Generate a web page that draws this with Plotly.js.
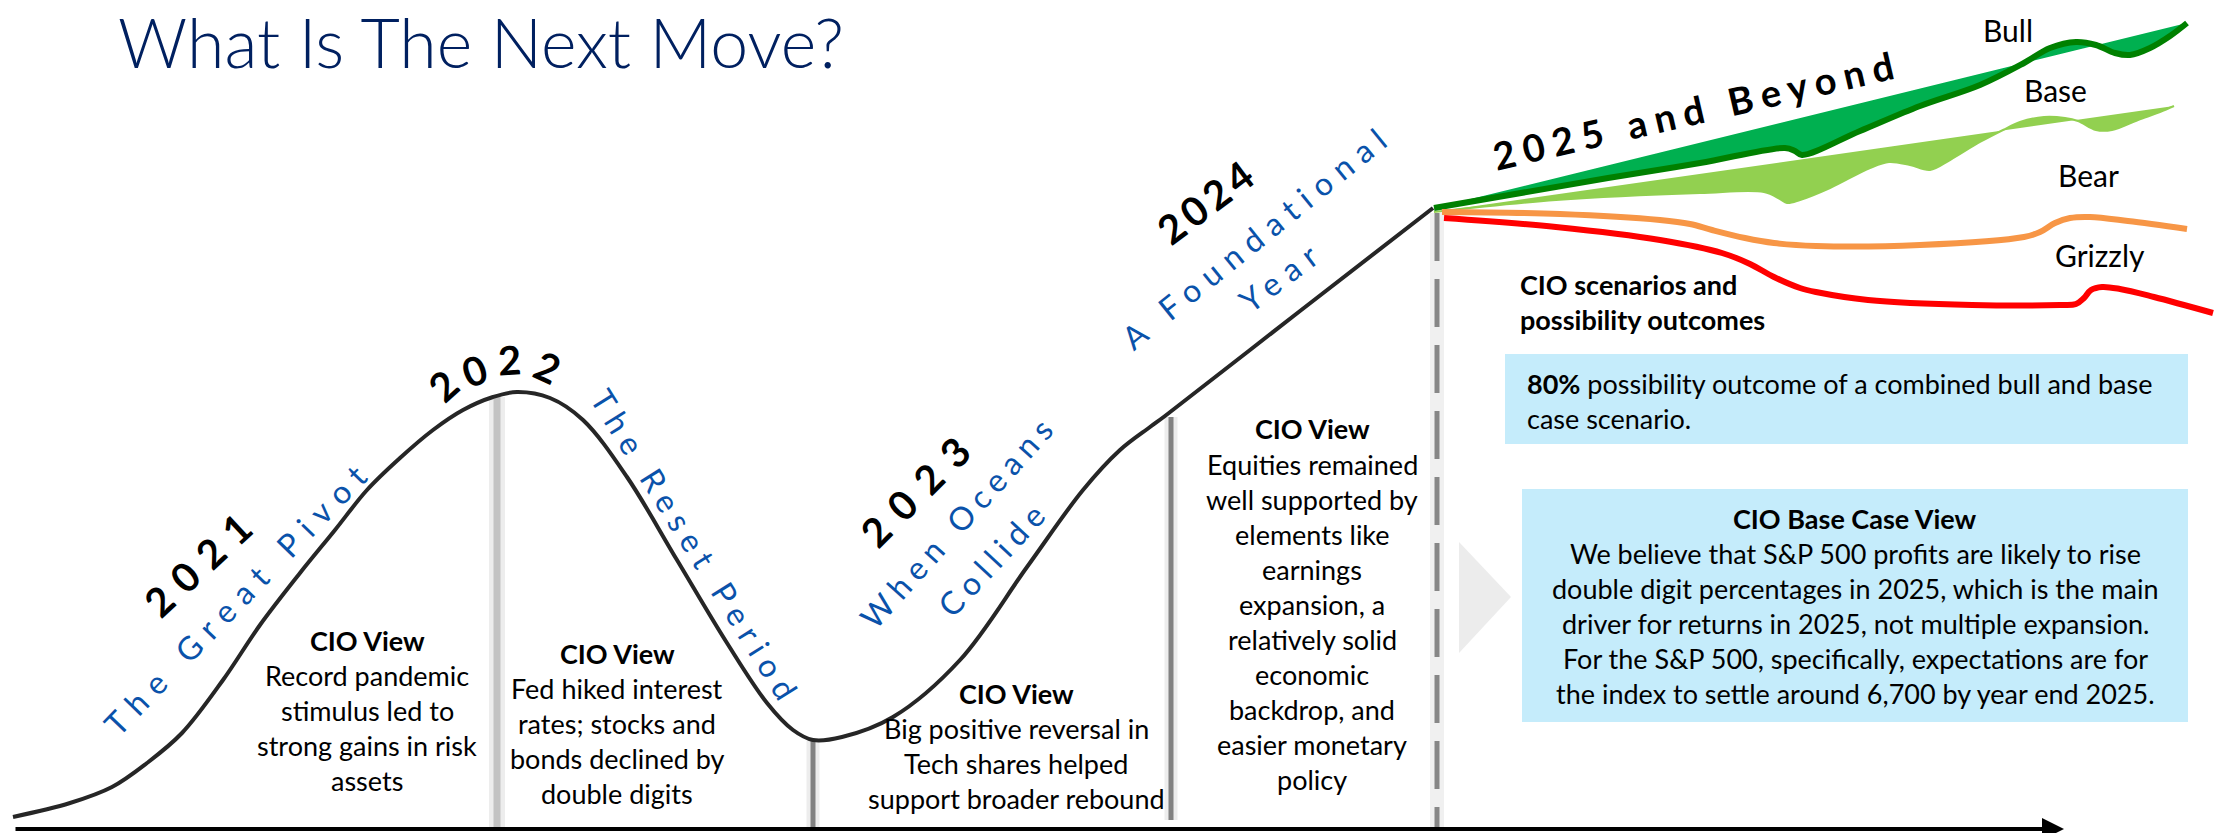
<!DOCTYPE html>
<html><head><meta charset="utf-8">
<script src="https://cdn.plot.ly/plotly-3.0.1.min.js"></script>
<style>html,body{margin:0;padding:0;background:#fff;}#chart{width:2215px;height:833px;}</style>
</head><body><div id="chart"></div>
<script>
// ---- Data (diagram coordinates: x = horizontal position, y = vertical position, 0 at top) ----
const curveX = [13,70,112,147,182,223,260,300,335,367,400,433,463,493,517,550,583,627,677,727,767,793,813,842,893,960,1027,1083,1120,1150,1165,1300,1433];
const curveY = [817,803,787,763,733,680,625,573,530,490,458,430,410,397,392,398,420,477,560,643,703,730,740,737,717,660,567,490,450,427,416,311,208];

const bullTopX = [1434,2187];
const bullTopY = [208,23];
const bullWaveX = [1434,1608,1700,1785,1795,1802,1860,1920,1980,2024,2050,2076,2096,2115,2130,2150,2170,2187];
const bullWaveY = [208,178,163,148,151,155,131,106,85,63,48,42,45,53,55,48,36,23];

const baseTopX = [1434,2174];
const baseTopY = [212,106];
const baseWaveX = [1434,1556,1700,1764,1780,1787,1800,1830,1870,1889,1910,1930,1950,1980,2003,2020,2044,2065,2078,2096,2112,2138,2160,2174];
const baseWaveY = [212,200,193,192,199,203,200,188,168,162,165,170,160,142,130,122,117,118,121,130,130,120,112,106];

const bearX = [1442,1560,1660,1690,1712,1745,1774,1816,1920,2024,2040,2055,2070,2090,2128,2187];
const bearY = [212,214,220,224,230,238,243,246,245,237,232,223,218,217,221,229];

const grizzlyX = [1444,1556,1660,1722,1750,1774,1800,1816,1868,1972,2060,2076,2084,2091,2102,2120,2154,2213];
const grizzlyY = [218,227,240,253,264,277,288,292,300,305,305,304,298,290,287,289,297,313];

const dividerX   = [497, 813, 1171, 1437];
const dividerTop = [397, 740, 417, 213];
const dividerBottom = [830, 830, 820, 830];

const yearLabels = ['2021','2022','2023','2024'];
const eraLabels = ['The Great Pivot','The Reset Period','When Oceans','Collide','A Foundational','Year'];
const scenarioLabels = ['Bull','Base','Bear','Grizzly'];

const col2021 = ['Record pandemic','stimulus led to','strong gains in risk','assets'];
const col2022 = ['Fed hiked interest','rates; stocks and','bonds declined by','double digits'];
const col2023 = ['Big positive reversal in','Tech shares helped','support broader rebound'];
const col2024 = ['Equities remained','well supported by','elements like','earnings','expansion, a','relatively solid','economic','backdrop, and','easier monetary','policy'];
const box1Lines = ['<b>80%</b> possibility outcome of a combined bull and base','case scenario.'];
const box2Title = 'CIO Base Case View';
const box2Lines = ['We believe that S&P 500 profits are likely to rise','double digit percentages in 2025, which is the main','driver for returns in 2025, not multiple expansion.','For the S&P 500, specifically, expectations are for','the index to settle around 6,700 by year end 2025.'];

// ---- Styles ----
const F = 'Lato, "Open Sans", "Liberation Sans", sans-serif';
const BLUE = '#0a52aa';
const BODY = 27;
const LH = 35;

const traces = [];
// dividers
dividerX.forEach((x, i) => {
  const yy = [dividerTop[i], dividerBottom[i]];
  if (i === 0) {
    traces.push({x:[x,x], y:yy, mode:'lines', line:{color:'rgba(0,0,0,0.07)', width:16}, hoverinfo:'skip'});
    traces.push({x:[x,x], y:yy, mode:'lines', line:{color:'#c3c3c3', width:7}, hoverinfo:'skip'});
  } else if (i === 3) {
    traces.push({x:[x,x], y:yy, mode:'lines', line:{color:'rgba(0,0,0,0.06)', width:14}, hoverinfo:'skip'});
    traces.push({x:[x,x], y:yy, mode:'lines', line:{color:'#878787', width:5, dash:'48px,18px'}, hoverinfo:'skip'});
  } else {
    traces.push({x:[x,x], y:yy, mode:'lines', line:{color:'rgba(0,0,0,0.07)', width:13}, hoverinfo:'skip'});
    traces.push({x:[x,x], y:yy, mode:'lines', line:{color:'#828282', width:5}, hoverinfo:'skip'});
  }
});
// scenarios
traces.push({x:baseTopX, y:baseTopY, mode:'lines', line:{color:'#92D050', width:0}, hoverinfo:'skip'});
traces.push({x:baseWaveX, y:baseWaveY, mode:'lines', fill:'tonexty', fillcolor:'#92D050', line:{color:'#92D050', width:2, shape:'spline', smoothing:1}, hoverinfo:'skip'});
traces.push({x:bullTopX, y:bullTopY, mode:'lines', line:{color:'#00B050', width:0}, hoverinfo:'skip'});
traces.push({x:bullWaveX, y:bullWaveY, mode:'lines', fill:'tonexty', fillcolor:'#00B050', line:{color:'#008000', width:6, shape:'spline', smoothing:1}, hoverinfo:'skip'});
traces.push({x:bearX, y:bearY, mode:'lines', line:{color:'#F79646', width:6, shape:'spline', smoothing:1}, hoverinfo:'skip'});
traces.push({x:grizzlyX, y:grizzlyY, mode:'lines', line:{color:'#FF0000', width:6, shape:'spline', smoothing:1}, hoverinfo:'skip'});
// main path
traces.push({x:curveX, y:curveY, mode:'lines', line:{color:'#262626', width:4, shape:'spline', smoothing:1}, hoverinfo:'skip'});

const ann = [];
function A(text, x, y, o) {
  ann.push(Object.assign({text:text, x:x, y:y, xref:'x', yref:'y', showarrow:false,
    xanchor:'center', yanchor:'middle', font:{family:F, size:BODY, color:'#000'}}, o || {}));
}
function spaced(t, s) { return '<span style="letter-spacing:' + s + 'px">' + t + '</span>'; }
function block(lines, x, y0, o) {
  lines.forEach((t, i) => A(t, x, y0 + i * LH, o));
}

// axis arrow
ann.push({x:2064, y:829, ax:14, ay:829, axref:'x', ayref:'y', xref:'x', yref:'y', text:'', showarrow:true,
  arrowhead:2, arrowsize:1.1, arrowwidth:4, arrowcolor:'#000'});

// year labels
const yearFont = {family:F, size:40, color:'#000', weight:700};
A(spaced(yearLabels[0], 12), 202, 561, {textangle:-43, font:yearFont});
const arc = [[443,386,-42],[474,371,-20],[509,360,-3],[547,367,25]];
yearLabels[1].split('').forEach((c, i) => A('<b>' + c + '</b>', arc[i][0], arc[i][1], {textangle:arc[i][2], font:yearFont}));
A(spaced(yearLabels[2], 14), 920, 487, {textangle:-45, font:yearFont});
A(spaced(yearLabels[3], 5), 1207, 201, {textangle:-37, font:yearFont});

// era labels
const eraFont = {family:F, size:32, color:BLUE};
A(spaced(eraLabels[0], 10), 238, 596, {textangle:-46, font:eraFont});
A(spaced(eraLabels[1], 8), 697, 547, {textangle:58, font:eraFont});
A(spaced(eraLabels[2], 7), 958, 520, {textangle:-48, font:eraFont});
A(spaced(eraLabels[3], 7), 993, 557, {textangle:-47, font:eraFont});
A(spaced(eraLabels[4], 9), 1257, 235, {textangle:-39, font:eraFont});
A(spaced(eraLabels[5], 9), 1281, 275, {textangle:-37, font:eraFont});

// 2025 and Beyond
A(spaced('2025 and Beyond', 8), 1697, 109, {textangle:-13, font:{family:F, size:38, color:'#000', weight:700}});

// scenario labels
const scFont = {family:F, size:30, color:'#000'};
A(scenarioLabels[0], 2008, 30, {font:scFont});
A(scenarioLabels[1], 2055, 90, {font:scFont});
A(scenarioLabels[2], 2088, 175, {font:scFont});
A(scenarioLabels[3], 2100, 255, {font:scFont});

A('<b>CIO scenarios and</b>', 1518, 284, {xanchor:'left'});
A('<b>possibility outcomes</b>', 1518, 319, {xanchor:'left'});

// columns
A('<b>CIO View</b>', 367, 640); block(col2021, 367, 675);
A('<b>CIO View</b>', 617, 653); block(col2022, 617, 688);
A('<b>CIO View</b>', 1016, 693); block(col2023, 1016, 728);
A('<b>CIO View</b>', 1312, 428); block(col2024, 1312, 464);

// boxes text
block(box1Lines, 1525, 383, {xanchor:'left'});
A('<b>' + box2Title + '</b>', 1855, 518);
block(box2Lines, 1855, 553);

const shapes = [
  {type:'rect', xref:'x', yref:'y', x0:1505, x1:2188, y0:354, y1:444, fillcolor:'#c5ecfb', line:{width:0}, layer:'below'},
  {type:'rect', xref:'x', yref:'y', x0:1522, x1:2188, y0:489, y1:722, fillcolor:'#c5ecfb', line:{width:0}, layer:'below'},
  {type:'path', xref:'x', yref:'y', path:'M1459,542 L1511,597 L1459,653 Z', fillcolor:'#ececec', line:{width:0}, layer:'below'}
];

const layout = {
  width:2215, height:833,
  margin:{l:0, r:0, t:0, b:0},
  paper_bgcolor:'#fff', plot_bgcolor:'#fff',
  showlegend:false,
  title:{text:'What Is The Next Move?', font:{family:F, size:68, color:'#002060', weight:300},
    x:118/2215, xref:'container', xanchor:'left', y:1-44/833, yref:'container', yanchor:'middle'},
  xaxis:{range:[0,2215], visible:false, fixedrange:true},
  yaxis:{range:[833,0], visible:false, fixedrange:true},
  annotations:ann, shapes:shapes
};
Plotly.newPlot('chart', traces, layout, {staticPlot:true, displayModeBar:false});
</script></body></html>
